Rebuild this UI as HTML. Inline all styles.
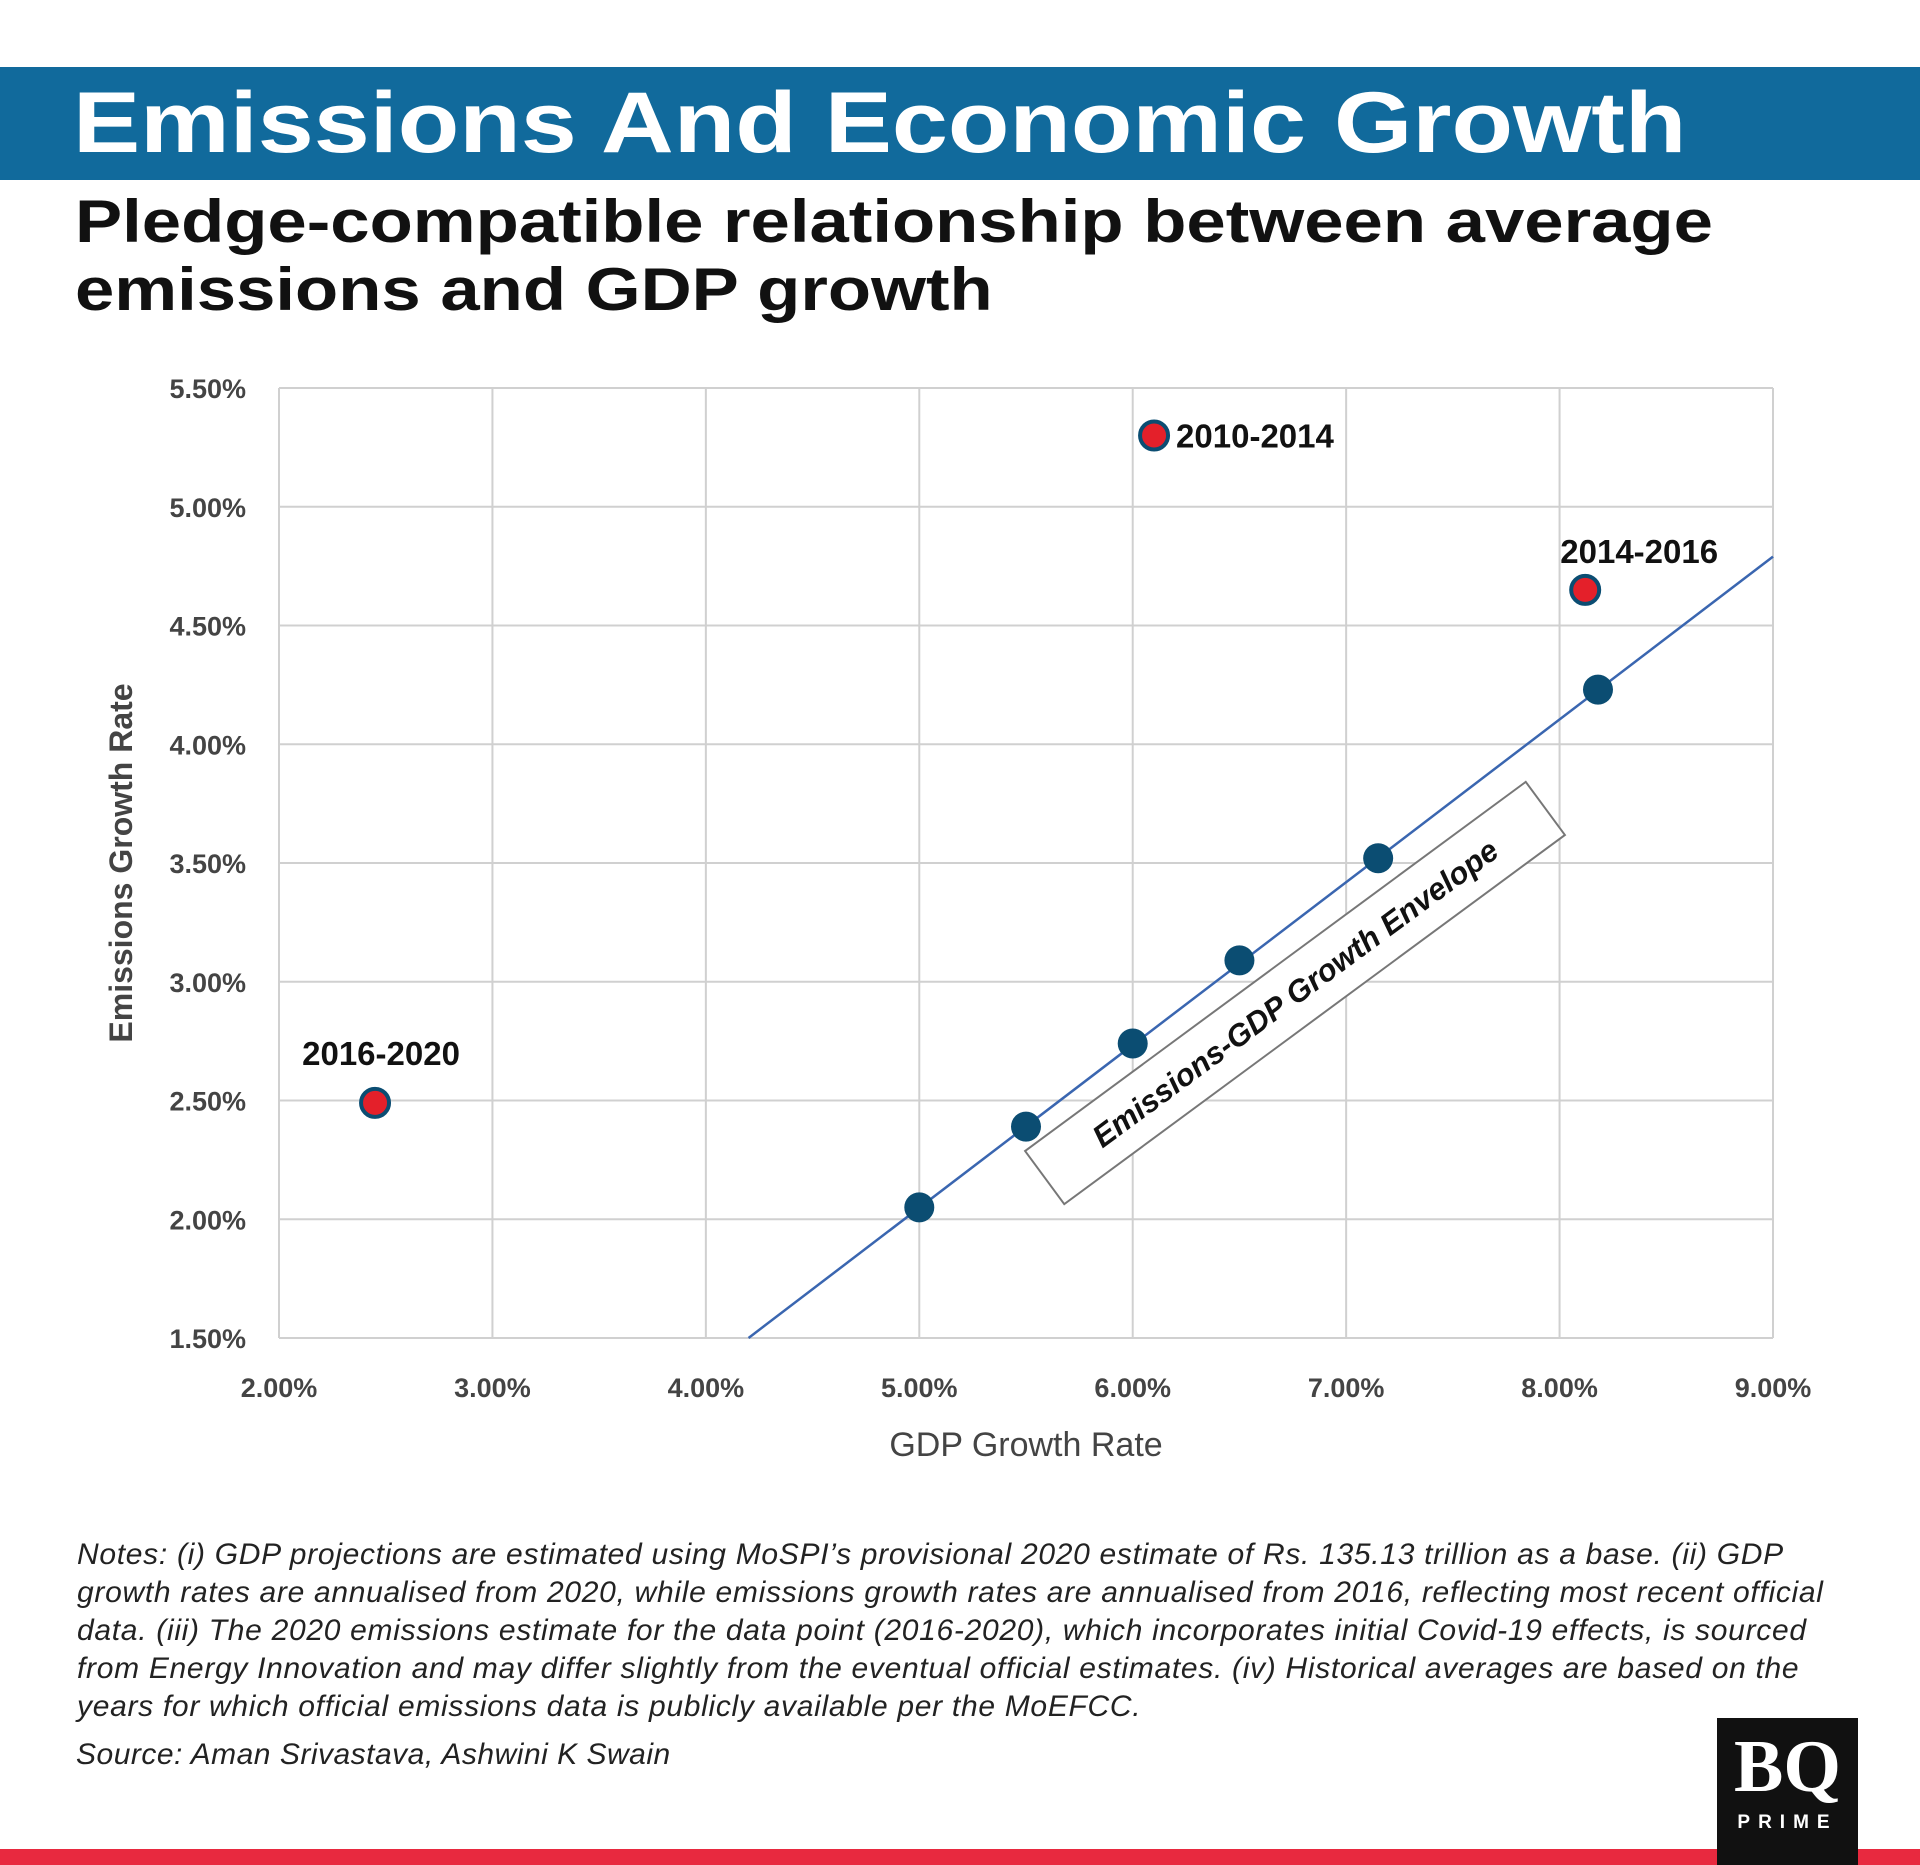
<!DOCTYPE html>
<html><head><meta charset="utf-8"><style>
body{margin:0;width:1920px;height:1865px;background:#fff;position:relative;overflow:hidden;font-family:"Liberation Sans",sans-serif}
.abs{position:absolute}
</style></head><body>
<div class="abs" style="left:0;top:67px;width:1920px;height:113px;background:#116a9c"></div>
<div class="abs" style="left:73px;top:68px;font-size:86px;font-weight:bold;color:#fff;line-height:110px;white-space:nowrap;transform:scaleX(1.171);transform-origin:0 0">Emissions And Economic Growth</div>
<div class="abs" style="left:75px;top:188px;font-size:60px;font-weight:bold;color:#111;line-height:68px;white-space:nowrap;transform:scaleX(1.178);transform-origin:0 0">Pledge-compatible relationship between average<br>emissions and GDP growth</div>
<svg class="abs" style="left:0;top:0" width="1920" height="1865" id="chart"></svg>
<div class="abs" style="left:77px;top:1536px;font-size:30px;font-style:italic;color:#222;line-height:38px;letter-spacing:0.7px;white-space:nowrap">Notes: (i) GDP projections are estimated using MoSPI’s provisional 2020 estimate of Rs. 135.13 trillion as a base. (ii) GDP<br>growth rates are annualised from 2020, while emissions growth rates are annualised from 2016, reflecting most recent official<br>data. (iii) The 2020 emissions estimate for the data point (2016-2020), which incorporates initial Covid-19 effects, is sourced<br>from Energy Innovation and may differ slightly from the eventual official estimates. (iv) Historical averages are based on the<br>years for which official emissions data is publicly available per the MoEFCC.</div>
<div class="abs" style="left:76px;top:1738px;font-size:30px;font-style:italic;color:#222;letter-spacing:0.5px">Source: Aman Srivastava, Ashwini K Swain</div>
<div class="abs" style="left:0;top:1849px;width:1920px;height:16px;background:#e8293f"></div>
<div class="abs" style="left:1717px;top:1718px;width:141px;height:147px;background:#111;color:#fff;text-align:center">
<div style="font-family:'Liberation Serif',serif;font-weight:bold;font-size:74px;line-height:90px;margin-top:4px">BQ</div>
<div style="font-size:19px;letter-spacing:8px;font-weight:bold">PRIME</div></div>
<script>
const xTicks=[2,3,4,5,6,7,8,9];
const yTicks=[1.5,2,2.5,3,3.5,4,4.5,5,5.5];
const envX=[5.0,5.5,6.0,6.5,7.15,8.18];
const envY=[2.05,2.39,2.74,3.09,3.52,4.23];
const histX=[6.1,8.12,2.45];
const histY=[5.3,4.65,2.49];
const histLabels=["2010-2014","2014-2016","2016-2020"];
const lineX=[4.2,9.0];
const lineY=[1.5,4.79];
const L=279,R=1773,T=388,B=1338;
const sx=v=>L+(v-2)/7*(R-L);
const sy=v=>B-(v-1.5)/4*(B-T);
const svg=document.getElementById('chart');
const NS='http://www.w3.org/2000/svg';
function mk(tag,at){const e=document.createElementNS(NS,tag);for(const k in at)e.setAttribute(k,at[k]);svg.appendChild(e);return e;}
xTicks.forEach(v=>{
 const g=mk('line',{x1:sx(v),x2:sx(v),y1:T,y2:B,stroke:'#d0d0d0','stroke-width':2});
 
 
 const t=mk('text',{x:sx(v),y:1397,'text-anchor':'middle','font-size':27,'font-weight':'bold',fill:'#444'});
 t.textContent=v.toFixed(2)+'%';
 
 
});
yTicks.forEach(v=>{
 const g=mk('line',{x1:L,x2:R,y1:sy(v),y2:sy(v),stroke:'#d0d0d0','stroke-width':2});
 
 
 const t=mk('text',{x:246,y:sy(v)+10,'text-anchor':'end','font-size':27,'font-weight':'bold',fill:'#444'});
 t.textContent=v.toFixed(2)+'%';
 
 
});
const xt=mk('text',{x:1026,y:1456,'text-anchor':'middle','font-size':34,fill:'#444'});
xt.textContent='GDP Growth Rate';


const yt=mk('text',{x:0,y:0,'text-anchor':'middle','font-size':32,'font-weight':'bold',fill:'#444',transform:'translate(132,863) rotate(-90)'});
yt.textContent='Emissions Growth Rate';


const ln=mk('line',{x1:sx(lineX[0]),y1:sy(lineY[0]),x2:sx(lineX[1]),y2:sy(lineY[1]),stroke:'#3a66b0','stroke-width':2.5});


const box=mk('g',{transform:'translate(1295,993) rotate(-36.4)'});


const r=document.createElementNS(NS,'rect');
r.setAttribute('x',-311);r.setAttribute('y',-33);r.setAttribute('width',622);r.setAttribute('height',66);
r.setAttribute('fill','#fff');r.setAttribute('stroke','#777');r.setAttribute('stroke-width',2);
box.appendChild(r);
const bt=document.createElementNS(NS,'text');
bt.setAttribute('x',0);bt.setAttribute('y',11);bt.setAttribute('text-anchor','middle');
bt.setAttribute('font-size',31);bt.setAttribute('font-weight','bold');bt.setAttribute('font-style','italic');bt.setAttribute('fill','#111');
bt.textContent='Emissions-GDP Growth Envelope';
box.appendChild(bt);
envX.forEach((v,i)=>{
 const c=mk('circle',{cx:sx(v),cy:sy(envY[i]),r:15,fill:'#0b4d72'});
 
 
});
const lblPos=[[1,'start',22,12],[0,'middle',54,-27],[0,'middle',6,-38]];
histX.forEach((v,i)=>{
 const c=mk('circle',{cx:sx(v),cy:sy(histY[i]),r:14,fill:'#e4202a',stroke:'#0b4d72','stroke-width':4});
 
 
 const p=lblPos[i];
 const t=mk('text',{x:sx(v)+p[2],y:sy(histY[i])+p[3],'text-anchor':p[1],'font-size':33,'font-weight':'bold',fill:'#111'});
 t.textContent=histLabels[i];
 
 
});
</script>
</body></html>
